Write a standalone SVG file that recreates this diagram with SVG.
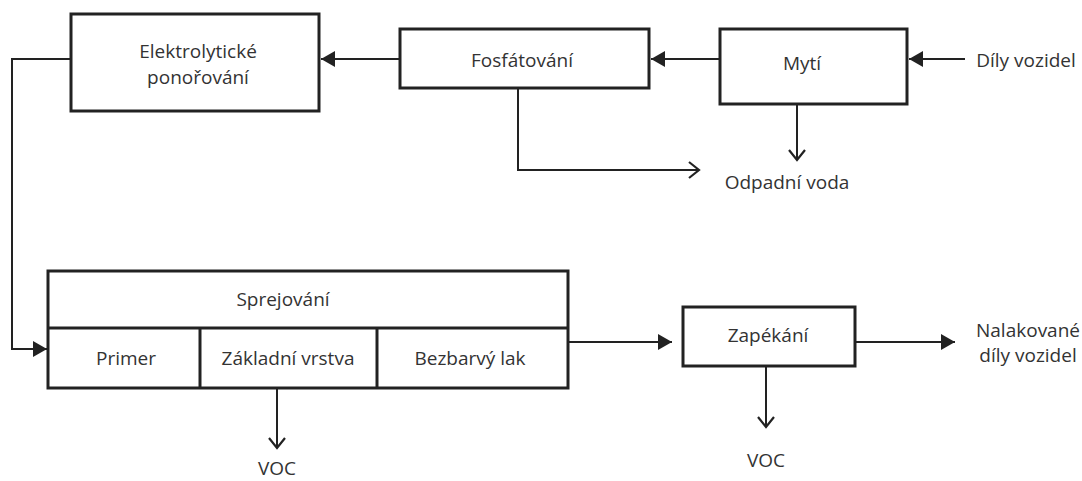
<svg xmlns="http://www.w3.org/2000/svg" width="1082" height="481" viewBox="0 0 1082 481">
<style>
.box{fill:#fff;stroke:#222;stroke-width:3}
.ln{fill:none;stroke:#222;stroke-width:2}
.t{font-family:"Open Sans","Noto Sans",sans-serif;font-size:19px;fill:#333;text-anchor:middle;dominant-baseline:central}
</style>
<defs>
<marker id="fill" markerWidth="15" markerHeight="16" refX="14" refY="8" orient="auto" markerUnits="userSpaceOnUse">
<path d="M0,0 L14,8 L0,16 Z" fill="#222"/>
</marker>
<marker id="open" markerWidth="18" markerHeight="20" refX="15" refY="10" orient="auto" markerUnits="userSpaceOnUse">
<path d="M5,2 L15,10 L5,18" fill="none" stroke="#222" stroke-width="2.2"/>
</marker>
</defs>
<g id="connectors">
<path class="ln" d="M965,59 H909" marker-end="url(#fill)"/>
<path class="ln" d="M720,59 H651" marker-end="url(#fill)"/>
<path class="ln" d="M400,59 H321" marker-end="url(#fill)"/>
<path class="ln" d="M71,59 H12 V349 H47" marker-end="url(#fill)"/>
<path class="ln" d="M518,88 V170 H699" marker-end="url(#open)"/>
<path class="ln" d="M797,104 V160" marker-end="url(#open)"/>
<path class="ln" d="M277,388 V448" marker-end="url(#open)"/>
<path class="ln" d="M568,342 H672" marker-end="url(#fill)"/>
<path class="ln" d="M855,342 H955" marker-end="url(#fill)"/>
<path class="ln" d="M766,366 V427" marker-end="url(#open)"/>
</g>
<g id="elektro">
<rect class="box" x="71" y="14" width="248" height="97"/>
<text class="t" x="198" y="51">Elektrolytické</text>
<text class="t" x="198" y="77">ponořování</text>
</g>
<g id="fosfat">
<rect class="box" x="400" y="29" width="249" height="59"/>
<text class="t" x="522" y="60">Fosfátování</text>
</g>
<g id="myti">
<rect class="box" x="720" y="29" width="187" height="75"/>
<text class="t" x="802" y="63">Mytí</text>
</g>
<g id="dily">
<text class="t" x="1026" y="60">Díly vozidel</text>
</g>
<g id="odpadni">
<text class="t" x="787" y="182">Odpadní voda</text>
</g>
<g id="sprej">
<rect class="box" x="48" y="271" width="520" height="117"/>
<line class="box" x1="48" y1="328" x2="568" y2="328"/>
<line class="box" x1="200" y1="328" x2="200" y2="388"/>
<line class="box" x1="377" y1="328" x2="377" y2="388"/>
<text class="t" x="283" y="299">Sprejování</text>
<text class="t" x="126" y="358">Primer</text>
<text class="t" x="288" y="358">Základní vrstva</text>
<text class="t" x="470" y="358">Bezbarvý lak</text>
</g>
<g id="voc1"><text class="t" x="277" y="468">VOC</text></g>
<g id="zapek">
<rect class="box" x="683" y="307" width="172" height="59"/>
<text class="t" x="768" y="335">Zapékání</text>
</g>
<g id="voc2"><text class="t" x="766" y="460">VOC</text></g>
<g id="nalak">
<text class="t" x="1028" y="330">Nalakované</text>
<text class="t" x="1028" y="355">díly vozidel</text>
</g>
</svg>
